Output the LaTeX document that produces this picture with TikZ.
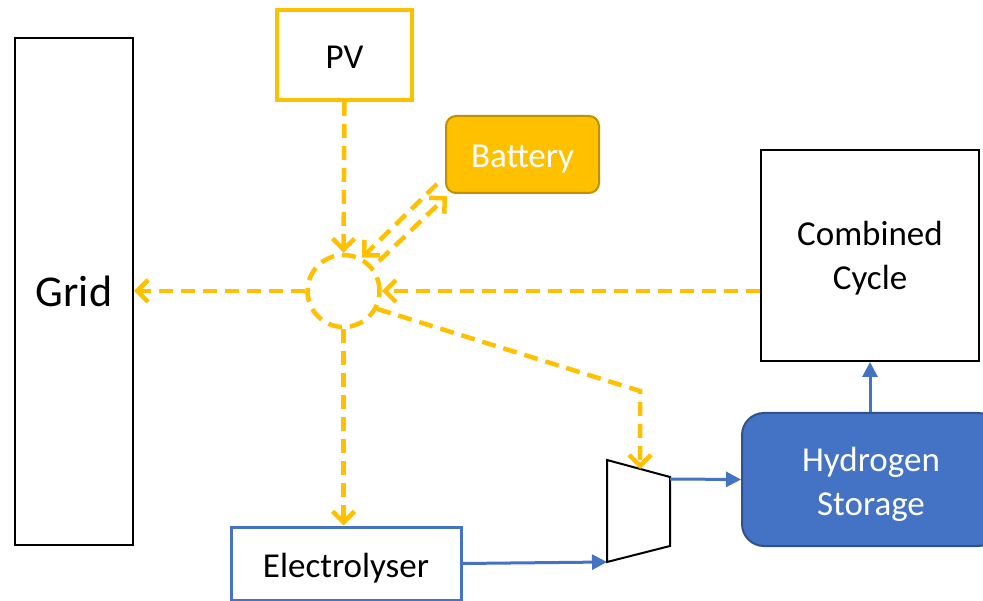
\documentclass[tikz,border=0pt]{standalone}
\usepackage{fontspec}
\setmainfont{Carlito}
\usetikzlibrary{arrows.meta, positioning}

\definecolor{pvyel}{HTML}{FFC000}
\definecolor{batedge}{HTML}{BF9000}
\definecolor{htwo}{HTML}{4472C4}
\definecolor{htwoedge}{HTML}{2F528F}

% lower a label by #1 without changing its box
\newcommand{\drop}[2]{\raisebox{-#1}[\height][\depth]{#2}}

\begin{document}
\begin{tikzpicture}[x=1pt, y=-1pt,
      blk/.style={draw, line width=2pt, inner sep=0pt, align=center,
                  font=\fontsize{35}{44}\selectfont},
      pwr/.style={pvyel, line width=4.5pt, dash pattern=on 14pt off 8pt,
                  -{Straight Barb[length=11pt, width=22pt, line width=4.5pt]}},
      gas/.style={htwo, line width=3pt,
                  -{Triangle[length=15pt, width=15pt]}}]

    \useasboundingbox (0,0) rectangle (983,601);

    % Blocks (1 unit = 1 px of the layout)
    \node[blk, minimum width=118pt, minimum height=507pt,
          font=\fontsize{44}{50}\selectfont] (grid) at (74,291.5) {Grid};
    \node[blk, draw=pvyel, line width=4pt, minimum width=135pt,
          minimum height=90pt] (pv) at (344.5,55) {\drop{2pt}{PV}};
    \node[blk, draw=batedge, fill=pvyel, text=white, rounded corners=10pt,
          minimum width=153pt, minimum height=77pt] (bat) at (522.5,154.5)
          {\drop{5pt}{Battery}};
    \node[blk, minimum width=218pt, minimum height=211pt] (cc) at (870,255.5)
          {\drop{3pt}{\begin{tabular}{@{}c@{}}Combined\\Cycle\end{tabular}}};
    \node[blk, draw=htwoedge, fill=htwo, text=white, rounded corners=22pt,
          minimum width=258pt, minimum height=133pt] (h2) at (871,479.5)
          {\drop{5pt}{\begin{tabular}{@{}c@{}}Hydrogen\\Storage\end{tabular}}};
    \node[blk, draw=htwo, line width=3pt, minimum width=230pt,
          minimum height=73pt] (ely) at (346,563.5) {\drop{5pt}{Electrolyser}};

    % Bus (dashed circle)
    \node[circle, draw=pvyel, line width=4.5pt, dash pattern=on 14pt off 8pt,
          minimum size=72pt, inner sep=0pt] (bus) at (343.5,291) {};

    % Compressor
    \coordinate (ctl) at (607,460);
    \coordinate (ctr) at (670,477);
    \coordinate (cbr) at (670,546);
    \coordinate (cbl) at (607,562);
    \coordinate (cin) at (640,469);
    \coordinate (cout) at (670,479);
    \draw[line width=2pt, line join=miter] (ctl) -- (ctr) -- (cbr) -- (cbl) -- cycle;

    % Power lines
    \coordinate (bfrom) at (437,184);
    \coordinate (bto) at (447,196);
    \coordinate (bback) at (379,261);
    \draw[pwr] (pv.south) -- (bus.north);
    \draw[pwr] (bfrom) -- (bus.61);
    \draw[pwr] (bback) -- (bto);
    \draw[pwr] (bus.east -| cc.west) -- (bus.east);
    \draw[pwr] (bus.west) -- (bus.west -| grid.east);
    \draw[pwr] (bus.south) -- (bus.south |- ely.north);
    \draw[pwr] (bus.-28) -- (cin |- 0,391) -- (cin);

    % Hydrogen lines
    \draw[gas] (ely.east) -- (cbl);
    \draw[gas] (cout) -- (h2.west);
    \draw[gas] (cc.south |- h2.north) -- (cc.south);

\end{tikzpicture}
\end{document}
